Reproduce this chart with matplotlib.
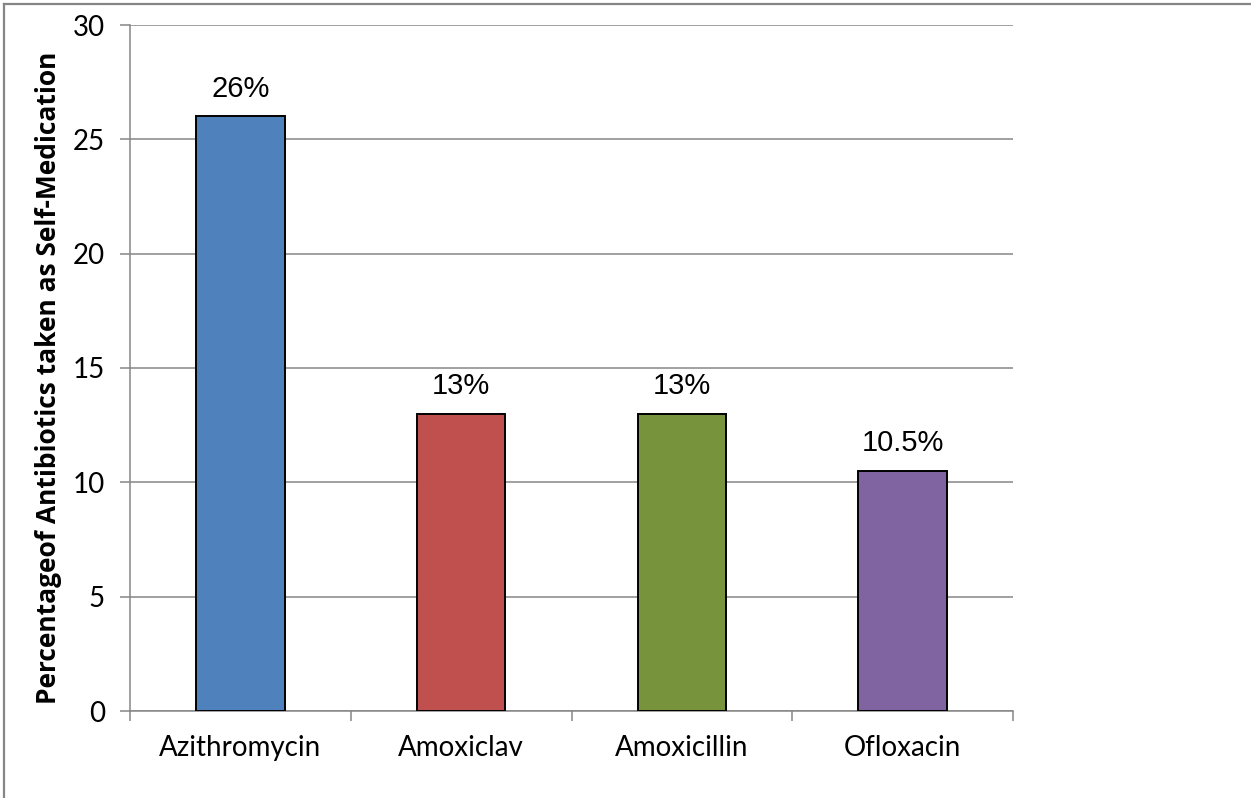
import matplotlib
matplotlib.use("Agg")
import matplotlib.pyplot as plt
from matplotlib.lines import Line2D

# Data
drugs = ["Azithromycin", "Amoxiclav", "Amoxicillin", "Ofloxacin"]
percentages = [26, 13, 13, 10.5]
value_labels = ["26%", "13%", "13%", "10.5%"]
bar_colors = ["#4F81BD", "#C0504D", "#77933C", "#8064A2"]
y_ticks = [0, 5, 10, 15, 20, 25, 30]

W, H = 1251, 798
fig = plt.figure(figsize=(W / 100, H / 100), dpi=100)
fig.patch.set_facecolor("white")

# axes box in pixel coordinates
left, right, top, bottom = 130, 1013, 25, 711
ax = fig.add_axes([left / W, 1 - bottom / H, (right - left) / W, (bottom - top) / H])

grid_color = "#868686"
x = list(range(len(drugs)))
ax.bar(x, percentages, width=0.40, color=bar_colors, edgecolor="black",
       linewidth=1.4, zorder=3)

for xi, v, lab in zip(x, percentages, value_labels):
    ax.text(xi, v + 0.6, lab, ha="center", va="bottom", fontsize=21,
            family="Liberation Sans", color="black")

ax.set_xlim(-0.5, len(drugs) - 0.5)
ax.set_ylim(0, 30)
ax.set_yticks(y_ticks)
ax.set_yticklabels([str(t) for t in y_ticks], family="Lato", fontsize=20)
ax.yaxis.grid(True, color=grid_color, linewidth=1.1, zorder=0)
ax.set_axisbelow(True)

# category labels centred, tick marks on category boundaries
ax.set_xticks(x)
ax.set_xticklabels(drugs, family="Lato", fontsize=20)
ax.tick_params(axis="x", which="major", length=0, pad=17)
ax.set_xticks([i - 0.5 for i in range(len(drugs) + 1)], minor=True)
ax.tick_params(axis="x", which="minor", length=7, width=1.1, color=grid_color,
               direction="out")
ax.tick_params(axis="y", length=7, width=1.1, color=grid_color, direction="out", pad=11)

for side in ("top", "right"):
    ax.spines[side].set_visible(False)
for side in ("left", "bottom"):
    ax.spines[side].set_color(grid_color)
    ax.spines[side].set_linewidth(1.1)

ax.set_ylabel("Percentageof Antibiotics taken as Self-Medication",
              family="Open Sans", fontweight="bold", fontsize=19)
ax.yaxis.set_label_coords(-0.077, 0.486)

# chart frame (top and left edges)
fig.add_artist(Line2D([4 / W, 1.0], [1 - 4 / H, 1 - 4 / H], color=grid_color,
                      linewidth=1.6, transform=fig.transFigure))
fig.add_artist(Line2D([4 / W, 4 / W], [0.0, 1 - 4 / H], color=grid_color,
                      linewidth=1.6, transform=fig.transFigure))

fig.savefig("out.png", dpi=100)
